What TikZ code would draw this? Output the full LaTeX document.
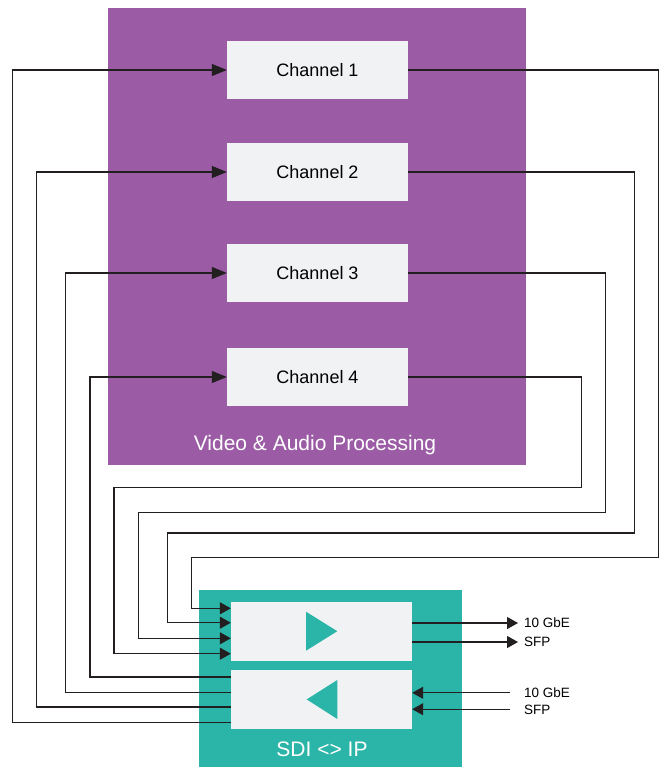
\documentclass[tikz,border=0pt]{standalone}
\usepackage{fontspec}
\setmainfont{Liberation Sans}
\usepackage{xcolor}
\usetikzlibrary{positioning, calc, arrows.meta}

\definecolor{procpurple}{RGB}{155,91,165}
\definecolor{sditeal}{RGB}{43,181,168}
\definecolor{boxgray}{RGB}{241,242,244}
\definecolor{wirecol}{RGB}{35,31,32}

\tikzset{
    chbox/.style={fill=boxgray, minimum width=181pt, minimum height=58pt, inner sep=0pt,
        text height=12.9pt, text depth=0pt, font=\fontsize{18}{20}\selectfont},
    sdibox/.style={fill=boxgray, minimum width=181pt, minimum height=59pt, inner sep=0pt},
    panellabel/.style={text=white, inner sep=0pt, text height=15pt, text depth=0pt,
        font=\fontsize{21}{24}\selectfont},
    portlabel/.style={anchor=west, inner sep=0pt, text height=9.7pt, text depth=0pt,
        font=\fontsize{13.5}{15}\selectfont},
    conn/.style={draw=wirecol, line width=1.3pt},
    bigtip/.style={-{Triangle[length=15pt, width=12pt]}},
    smalltip/.style={-{Triangle[length=11pt, width=12pt]}}
}

\begin{document}
\begin{tikzpicture}[x=1pt, y=-1pt]

    \useasboundingbox (0,0) rectangle (660,767);

    % --- BACKGROUND PANELS ---
    \fill[procpurple] (108,8) rectangle (526,465);
    \fill[sditeal] (199,590) rectangle (462,767);

    % --- PROCESSING CHANNELS ---
    \node[chbox] (ch1) at (317.5,70) {Channel 1};
    \node[chbox] (ch2) at (317.5,172) {Channel 2};
    \node[chbox] (ch3) at (317.5,273) {Channel 3};
    \node[chbox] (ch4) at (317.5,377) {Channel 4};
    \node[panellabel] (proc) at (315,443) {Video \& Audio Processing};

    % --- SDI <> IP CONVERTER ---
    \node[sdibox] (enc) at (321.5,631.2) {};
    \node[sdibox] (dec) at (321.5,699.4) {};
    \node[panellabel] (sdi) at (322,749) {SDI <> IP};

    % Direction markers
    \fill[sditeal] (306,611.7) -- (306,650.7) -- (337.3,631.2) -- cycle;
    \fill[sditeal] (337.3,680) -- (337.3,719) -- (306.7,699.4) -- cycle;

    % --- RETURN PATHS (decoder to channels) ---
    \coordinate (in1) at (12.3,722.7);
    \coordinate (in2) at (36.7,707);
    \coordinate (in3) at (65.7,692.3);
    \coordinate (in4) at (90,677);
    \draw[conn, bigtip] (dec.west |- in1) -- (in1) |- (ch1.west);
    \draw[conn, bigtip] (dec.west |- in2) -- (in2) |- (ch2.west);
    \draw[conn, bigtip] (dec.west |- in3) -- (in3) |- (ch3.west);
    \draw[conn, bigtip] (dec.west |- in4) -- (in4) |- (ch4.west);

    % --- FEED PATHS (channels to encoder) ---
    \coordinate (out1) at (658.7,557.5);
    \coordinate (out2) at (634.3,533);
    \coordinate (out3) at (605.7,512.2);
    \coordinate (out4) at (581.3,487.5);
    \coordinate (dn1) at (191.7,608.3);
    \coordinate (dn2) at (167.3,622.7);
    \coordinate (dn3) at (138.5,638.3);
    \coordinate (dn4) at (114,653.7);
    \draw[conn, smalltip] (ch1.east) -| (out1) -| (dn1) -- (enc.west |- dn1);
    \draw[conn, smalltip] (ch2.east) -| (out2) -| (dn2) -- (enc.west |- dn2);
    \draw[conn, smalltip] (ch3.east) -| (out3) -| (dn3) -- (enc.west |- dn3);
    \draw[conn, smalltip] (ch4.east) -| (out4) -| (dn4) -- (enc.west |- dn4);

    % --- NETWORK PORTS ---
    \node[portlabel] (gbeout) at (524,623) {10 GbE};
    \node[portlabel] (sfpout) at (524,642) {SFP};
    \node[portlabel] (gbein) at (524,692.8) {10 GbE};
    \node[portlabel] (sfpin) at (524,709.2) {SFP};
    \draw[conn, smalltip] (enc.east |- gbeout) -- ([xshift=-6pt]gbeout.west);
    \draw[conn, smalltip] (enc.east |- sfpout) -- ([xshift=-6pt]sfpout.west);
    \draw[conn, smalltip] ([xshift=-14pt]gbein.west) -- (dec.east |- gbein);
    \draw[conn, smalltip] ([xshift=-14pt]sfpin.west) -- (dec.east |- sfpin);

\end{tikzpicture}
\end{document}
